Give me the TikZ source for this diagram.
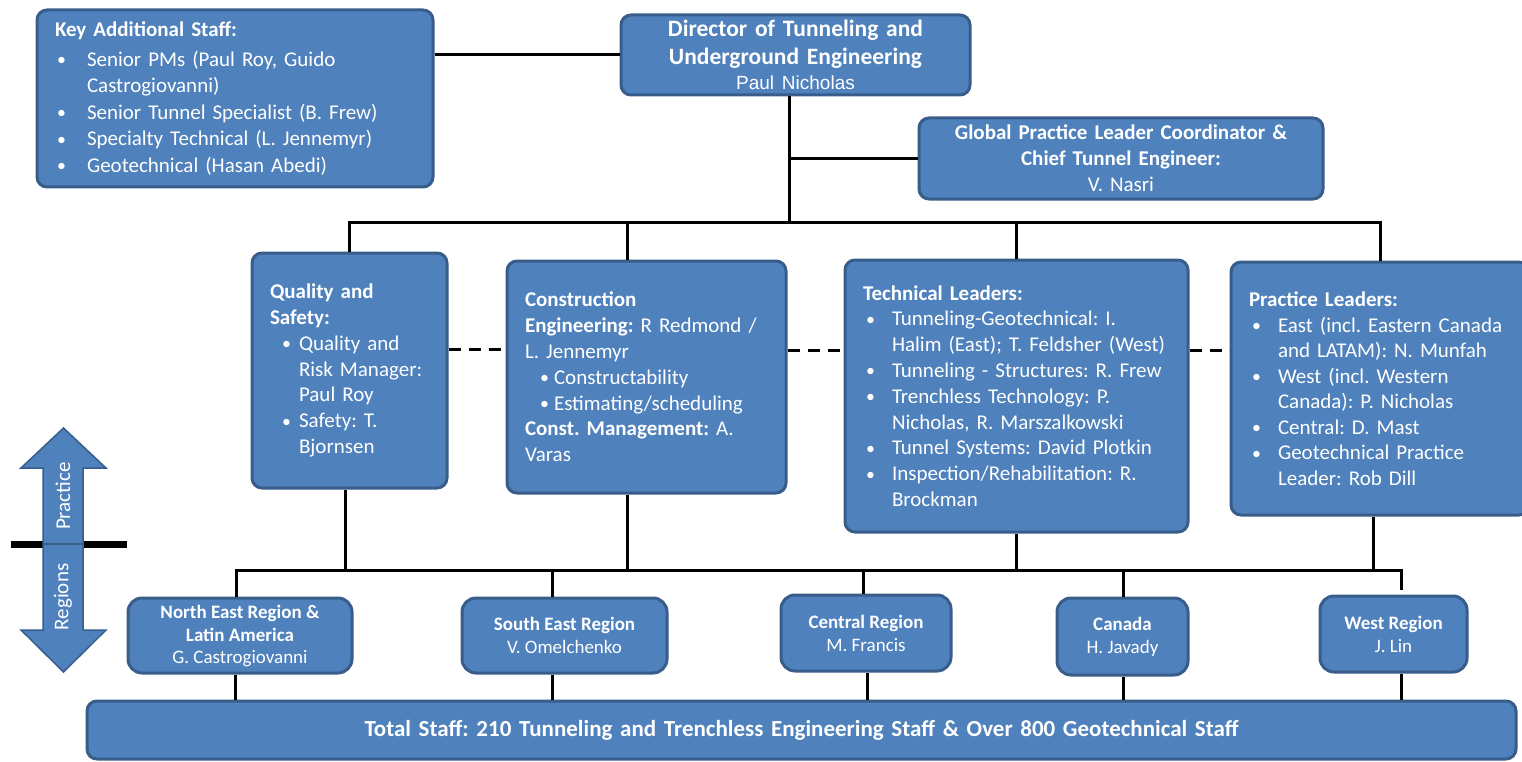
\documentclass[tikz,border=0pt]{standalone}
\usepackage{fontspec}
\setmainfont{Carlito}
\newfontfamily\arialf{Liberation Sans}
\definecolor{boxfill}{HTML}{4F81BD}
\definecolor{boxline}{HTML}{385D8A}
\newcommand\bu[2]{\makebox[#2][l]{\hspace*{#1}\raisebox{0.5pt}{\scalebox{0.85}{\textbullet}}}}
\newcommand\ct[1]{\hspace*{#1}}
\frenchspacing
\begin{document}
\frenchspacing
\begin{tikzpicture}[x=1pt,y=-1pt,
 box/.style={draw=boxline, fill=boxfill, line width=3pt, rounded corners=10pt, text=white,
   inner xsep=18pt, inner ysep=2pt, align=left, font=\fontsize{21}{25.8}\selectfont},
 rbox/.style={draw=boxline, fill=boxfill, line width=3pt, rounded corners=14pt, text=white,
   align=center, inner sep=2pt, font=\fontsize{19}{23}\selectfont},
 conn/.style={line width=3pt, black},
 dconn/.style={conn, dash pattern=on 12pt off 8pt},
 lbl/.style={text=white, font=\fontsize{21}{25}\selectfont, rotate=90, inner sep=0pt},
]
\clip (0,0) rectangle (1522,762);

% ---------- top row ----------
\node[box, minimum width=396pt, minimum height=177pt, text width=360pt, font=\fontsize{21}{26.6}\selectfont] (key) at (235,98.5)
 {\textbf{Key Additional Staff:}\\[3pt]
  \bu{2pt}{32pt}Senior PMs (Paul Roy, Guido\\
  \ct{32pt}Castrogiovanni)\\
  \bu{2pt}{32pt}Senior Tunnel Specialist (B. Frew)\\
  \bu{2pt}{32pt}Specialty Technical (L. Jennemyr)\\
  \bu{2pt}{32pt}Geotechnical (Hasan Abedi)};

\node[box, align=center, minimum width=349pt, minimum height=80pt, text width=313pt, font=\fontsize{23.5}{28}\selectfont] (dir) at (795.5,55)
 {\textbf{Director of Tunneling and}\\
  \textbf{Underground Engineering}\\[-3pt]
  {\arialf\fontsize{19}{22}\selectfont Paul Nicholas}};

\node[box, align=center, minimum width=404pt, minimum height=81pt, text width=368pt, font=\fontsize{21}{26}\selectfont] (glob) at (1121,158.5)
 {\textbf{Global Practice Leader Coordinator \&}\\
  \textbf{Chief Tunnel Engineer:}\\
  V. Nasri};

% ---------- middle row ----------
\node[box, minimum width=195pt, minimum height=235pt, text width=159pt] (qual) at (349.5,370.5)
 {\textbf{Quality and}\\
  \textbf{Safety:}\\
  \bu{12pt}{29pt}Quality and\\
  \ct{29pt}Risk Manager:\\
  \ct{29pt}Paul Roy\\
  \bu{12pt}{29pt}Safety: T.\\
  \ct{29pt}Bjornsen};

\node[box, minimum width=279pt, minimum height=232pt, text width=243pt] (cons) at (646.5,377)
 {\textbf{Construction}\\
  \mbox{\textbf{Engineering:} R Redmond /}\\
  L. Jennemyr\\
  \bu{15pt}{29pt}Constructability\\
  \bu{15pt}{29pt}Estimating/scheduling\\
  \mbox{\textbf{Const. Management:} A.}\\
  Varas};

\node[box, minimum width=343pt, minimum height=272pt, text width=307pt] (tech) at (1016.5,396)
 {\textbf{Technical Leaders:}\\
  \bu{3pt}{29pt}\mbox{Tunneling-Geotechnical: I.}\\
  \ct{29pt}\mbox{Halim (East); T. Feldsher (West)}\\
  \bu{3pt}{29pt}\mbox{Tunneling - Structures: R. Frew}\\
  \bu{3pt}{29pt}\mbox{Trenchless Technology: P.}\\
  \ct{29pt}\mbox{Nicholas, R. Marszalkowski}\\
  \bu{3pt}{29pt}\mbox{Tunnel Systems: David Plotkin}\\
  \bu{3pt}{29pt}\mbox{Inspection/Rehabilitation: R.}\\
  \ct{29pt}Brockman};

\node[box, minimum width=298pt, minimum height=253pt, text width=262pt, font=\fontsize{21}{25.5}\selectfont] (prac) at (1380,388.5)
 {\textbf{Practice Leaders:}\\
  \bu{3pt}{29pt}\mbox{East (incl. Eastern Canada}\\
  \ct{29pt}\mbox{and LATAM): N. Munfah}\\
  \bu{3pt}{29pt}\mbox{West (incl. Western}\\
  \ct{29pt}\mbox{Canada): P. Nicholas}\\
  \bu{3pt}{29pt}\mbox{Central: D. Mast}\\
  \bu{3pt}{29pt}\mbox{Geotechnical Practice}\\
  \ct{29pt}\mbox{Leader: Rob Dill}};

% ---------- regions ----------
\node[rbox, minimum width=224pt, minimum height=75pt] (ne) at (240,635.5)
 {\textbf{North East Region \&}\\ \textbf{Latin America}\\[-1pt] G. Castrogiovanni};
\node[rbox, minimum width=205pt, minimum height=75pt] (se) at (564.5,635.5)
 {\textbf{South East Region}\\ V. Omelchenko};
\node[rbox, minimum width=170pt, minimum height=76pt] (cen) at (866,633)
 {\textbf{Central Region}\\ M. Francis};
\node[rbox, minimum width=131pt, minimum height=77pt] (can) at (1122.5,636.5)
 {\textbf{Canada}\\ H. Javady};
\node[rbox, minimum width=147pt, minimum height=76pt] (west) at (1393.5,634)
 {\textbf{West Region}\\ J. Lin};

\node[box, align=center, rounded corners=10pt, minimum width=1429pt, minimum height=58pt, text width=1393pt, font=\fontsize{23}{27}\selectfont] (bar) at (801.5,730)
 {\raisebox{-4pt}{\textbf{Total Staff: 210 Tunneling and Trenchless Engineering Staff \& Over 800 Geotechnical Staff}}};

% ---------- connectors: top ----------
\coordinate (busT) at (789,222);
\coordinate (cdrop) at (627,222);
\draw[conn] (dir.west) -- (dir.west -| key.east);
\draw[conn] (busT |- dir.south) -- (busT);
\draw[conn] (busT |- glob.west) -- (glob.west);
\draw[conn] (qual.north) -- (qual.north |- busT) -- (busT -| prac.north) -- (prac.north);
\draw[conn] (cdrop) -- (cdrop |- cons.north);
\draw[conn] (tech.north |- busT) -- (tech.north);

% dashed links
\draw[dconn] (qual.east |- 0,349) -- (cons.west |- 0,349);
\draw[dconn] (cons.east |- 0,350) -- (tech.west |- 0,350);
\draw[dconn] (tech.east |- 0,350) -- (prac.west |- 0,350);

% ---------- connectors: bottom bus ----------
\coordinate (busB) at (236,570);
\coordinate (qd) at (345,570);
\coordinate (cd) at (627,570);
\coordinate (pd) at (1373,570);
\coordinate (sed) at (552,570);
\coordinate (cend) at (863,570);
\coordinate (cand) at (1123,570);
\coordinate (wd) at (1401,570);
\coordinate (wend) at (1401,590);
\draw[conn] (qd |- qual.south) -- (qd);
\draw[conn] (cd |- cons.south) -- (cd);
\draw[conn] (tech.south) -- (tech.south |- busB);
\draw[conn] (pd |- prac.south) -- (pd);
\draw[conn] (busB |- ne.north) -- (busB) -- (wd) -- (wend);
\draw[conn] (sed) -- (sed |- se.north);
\draw[conn] (cend) -- (cend |- cen.north);
\draw[conn] (cand) -- (cand |- can.north);

% region to total bar
\draw[conn] (235,0 |- ne.south) -- (235,0 |- bar.north);
\draw[conn] (sed |- se.south) -- (sed |- bar.north);
\draw[conn] (867,0 |- cen.south) -- (867,0 |- bar.north);
\draw[conn] (cand |- can.south) -- (cand |- bar.north);
\draw[conn] (wd |- west.south) -- (wd |- bar.north);

% ---------- practice / regions arrow ----------
\draw[line width=7pt] (11,544) -- (127,544);
\filldraw[fill=boxfill, draw=boxline, line width=1.5pt, line join=miter]
  (63.5,428) -- (106,468) -- (83,468) -- (83,630) -- (106,630) -- (63.5,672)
  -- (21,630) -- (43,630) -- (43,468) -- (21,468) -- cycle;
\draw[boxline, line width=1.5pt] (43,544) -- (83,544);
\node[lbl] (lp) at (63,496) {Practice};
\node[lbl] (lr) at (63,597) {Regions};
\end{tikzpicture}
\end{document}
